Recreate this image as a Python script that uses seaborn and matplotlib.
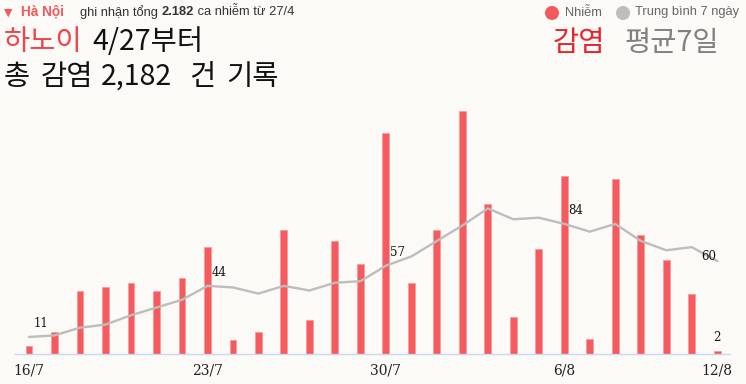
import numpy as np
import pandas as pd
import matplotlib
matplotlib.use("Agg")
import matplotlib.pyplot as plt
import seaborn as sns

# ---- data ----
dates = ["16/7", "17/7", "18/7", "19/7", "20/7", "21/7", "22/7", "23/7", "24/7", "25/7",
         "26/7", "27/7", "28/7", "29/7", "30/7", "31/7", "1/8", "2/8", "3/8", "4/8",
         "5/8", "6/8", "7/8", "8/8", "9/8", "10/8", "11/8", "12/8"]
cases = [5, 14, 41, 43, 46, 41, 49, 69, 9, 14, 80, 22, 73, 58, 143, 46, 80, 157, 97, 24,
         68, 115, 10, 113, 77, 61, 39, 2]
avg7 = [11, 12, 17, 19, 25, 30, 35, 44, 43, 39, 44, 41, 46, 47, 57, 63, 73, 83, 94, 87,
        88, 84, 79, 84, 73, 67, 69, 60]
tick_labels = ["16/7", "23/7", "30/7", "6/8", "12/8"]
avg_label_days = ["16/7", "23/7", "30/7", "6/8", "12/8"]
bar_label_days = ["12/8"]

df = pd.DataFrame({"date": dates, "cases": cases, "avg": avg7, "pos": np.arange(len(dates))})

BG = "#FBFAF6"
RED = "#F55A5F"
GREY = "#BDBDBD"

sns.set_theme(style="white")
plt.rcParams["font.family"] = ["Liberation Sans", "DejaVu Sans"]

W, H = 746, 384
fig = plt.figure(figsize=(W / 100, H / 100), dpi=100, facecolor=BG)
ax = fig.add_axes([15 / W, 30 / H, 715 / W, 254 / H], facecolor=BG)

sns.barplot(data=df, x="date", y="cases", order=dates, color=RED, width=0.27,
            edgecolor="#F99A9C", linewidth=0.6, saturation=1, ax=ax)
sns.lineplot(data=df, x="pos", y="avg", color=GREY, linewidth=1.7, ax=ax)

ax.set_xlim(-0.55, 27.5)
ax.set_ylim(0, 164)
ax.set_xlabel("")
ax.set_ylabel("")
ax.set_yticks([])
ticks = [dates.index(t) for t in tick_labels]
ax.set_xticks(ticks)
ax.set_xticklabels(tick_labels, family="DejaVu Serif", fontsize=10, color="#222")
ax.tick_params(axis="x", length=0, pad=7)
for s in ["top", "right", "left"]:
    ax.spines[s].set_visible(False)
ax.spines["bottom"].set_color("#C9D7EE")
ax.spines["bottom"].set_linewidth(1.0)

# value labels
for d in avg_label_days:
    i = dates.index(d)
    if i == len(dates) - 1:
        ax.annotate(f"{avg7[i]}", (i, avg7[i]), xytext=(-1, 3), textcoords="offset points",
                    ha="right", va="center", family="DejaVu Serif", fontsize=8.5, color="#111")
    else:
        ax.annotate(f"{avg7[i]}", (i, avg7[i]), xytext=(3, 5), textcoords="offset points",
                    ha="left", va="bottom", family="DejaVu Serif", fontsize=8.5, color="#111")
for d in bar_label_days:
    i = dates.index(d)
    ax.annotate(f"{cases[i]}", (i, cases[i]), xytext=(0, 5), textcoords="offset points",
                ha="center", va="bottom", family="DejaVu Serif", fontsize=8.5, color="#111")


def fx(x):
    return x / W


def fy(y):
    return 1 - y / H


renderer = fig.canvas.get_renderer()


def seq(x, y, pieces, va="center"):
    """place text pieces one after another starting at pixel x."""
    for txt, kw in pieces:
        t = fig.text(fx(x), fy(y), txt, va=va, ha="left", **kw)
        bb = t.get_window_extent(renderer=renderer)
        x += bb.width
    return x


# header line
fig.text(fx(4), fy(12.5), "▼", fontsize=8, color="#F0595E", family="DejaVu Sans", va="center")
fig.text(fx(21), fy(12), "Hà Nội", fontsize=9.8, color="#F0595E", weight="bold", va="center")
seq(80, 12, [("ghi nhận tổng ", dict(fontsize=9.3, color="#333")),
             ("2.182", dict(fontsize=9.3, color="#333", weight="bold")),
             (" ca nhiễm từ 27/4", dict(fontsize=9.3, color="#333"))])

# legend
fig.patches.append(matplotlib.patches.Circle((552, H - 13), 6.3, transform=None,
                                             color="#F5585D", figure=fig))
fig.patches.append(matplotlib.patches.Circle((623, H - 13), 6.3, transform=None,
                                             color=GREY, figure=fig))
fig.text(fx(565), fy(12.5), "Nhiễm", fontsize=9.3, color="#666", va="center")
fig.text(fx(635), fy(12.5), "Trung bình 7 ngày", fontsize=9.3, color="#666", va="center")

# Korean titles
KR = ["Noto Sans CJK KR", "DejaVu Sans"]
FS = 20.5
fig.text(fx(4), fy(42), "하노이", fontsize=FS, color="#F0434A", family=KR, va="center")
fig.text(fx(92), fy(42), "4/27부터", fontsize=FS, color="#111", family=KR, va="center")
for txt, x0 in [("총", 4), ("감염", 41), ("2,182", 101), ("건", 189), ("기록", 226)]:
    fig.text(fx(x0), fy(77), txt, fontsize=FS, color="#111", family=KR, va="center")
fig.text(fx(553), fy(43), "감염", fontsize=FS, color="#E8232B", family=KR, va="center")
fig.text(fx(625), fy(43), "평균7일", fontsize=FS, color="#808080", family=KR, va="center")

fig.savefig("out.png", dpi=100, facecolor=BG)
